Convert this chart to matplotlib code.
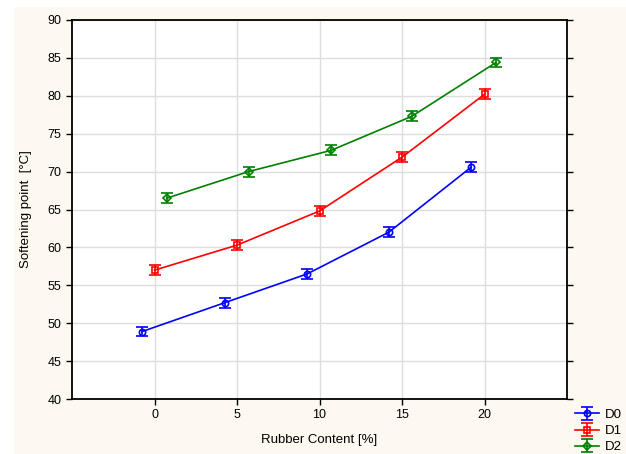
import matplotlib.pyplot as plt
from matplotlib.patches import Rectangle

plt.rcParams['font.family'] = ['Liberation Sans', 'DejaVu Sans']

# softening point vs rubber content, three series (slightly offset in x)
series_names = ['D0', 'D1', 'D2']
x_d0 = [-0.75, 4.25, 9.25, 14.2, 19.2]
x_d1 = [0.0, 5.0, 10.0, 15.0, 20.0]
x_d2 = [0.75, 5.7, 10.7, 15.6, 20.7]
y_d0 = [48.9, 52.7, 56.5, 62.0, 70.6]
y_d1 = [57.0, 60.3, 64.8, 71.9, 80.2]
y_d2 = [66.5, 70.0, 72.8, 77.3, 84.4]
err_d0 = [0.65, 0.65, 0.65, 0.65, 0.65]
err_d1 = [0.65, 0.65, 0.65, 0.65, 0.65]
err_d2 = [0.65, 0.65, 0.65, 0.65, 0.65]

colors = ['#0000ff', '#ff0000', '#008000']
markers = ['o', 's', 'D']

fig = plt.figure(figsize=(6.26, 4.54), dpi=100, facecolor='white')
# cream panel behind the plot
fig.patches.append(Rectangle((14 / 626, 0), 1 - 14 / 626, (454 - 7) / 454,
                             transform=fig.transFigure, facecolor='#fdf9f0',
                             edgecolor='none', zorder=-10))

ax = fig.add_axes([72 / 626, 55 / 454, 495 / 626, 379 / 454])
ax.set_facecolor('white')

xs = [x_d0, x_d1, x_d2]
ys = [y_d0, y_d1, y_d2]
errs = [err_d0, err_d1, err_d2]
handles = []
for x, y, e, c, m, name in zip(xs, ys, errs, colors, markers, series_names):
    h = ax.errorbar(x, y, yerr=e, color=c, marker=m, markersize=4.5,
                    markerfacecolor='none', markeredgewidth=1.2,
                    linewidth=1.2, elinewidth=1.2, capsize=4.5, capthick=1.2,
                    label=name, zorder=3)
    handles.append(h)

ax.set_xlim(-5, 25)
ax.set_ylim(40, 90)
ax.set_xticks([0, 5, 10, 15, 20])
ax.set_yticks(range(40, 91, 5))
ax.grid(True, color='#dddddd', linewidth=1.0, zorder=0)
ax.set_axisbelow(True)

ax.tick_params(direction='out', length=4, width=1, labelsize=9,
               right=True, top=False, colors='black')
for s in ax.spines.values():
    s.set_linewidth(1.3)
    s.set_color('black')

ax.set_xlabel('Rubber Content [%]', fontsize=9.5, labelpad=9)
ax.set_ylabel('Softening point  [°C]', fontsize=9.5, labelpad=11)

fig.legend(handles=handles, labels=series_names, loc='lower right',
           bbox_to_anchor=(1.012, -0.025), frameon=False, fontsize=9.5,
           handlelength=1.8, handletextpad=0.4, labelspacing=0.3)

fig.savefig('out.png', dpi=100, facecolor=fig.get_facecolor())
